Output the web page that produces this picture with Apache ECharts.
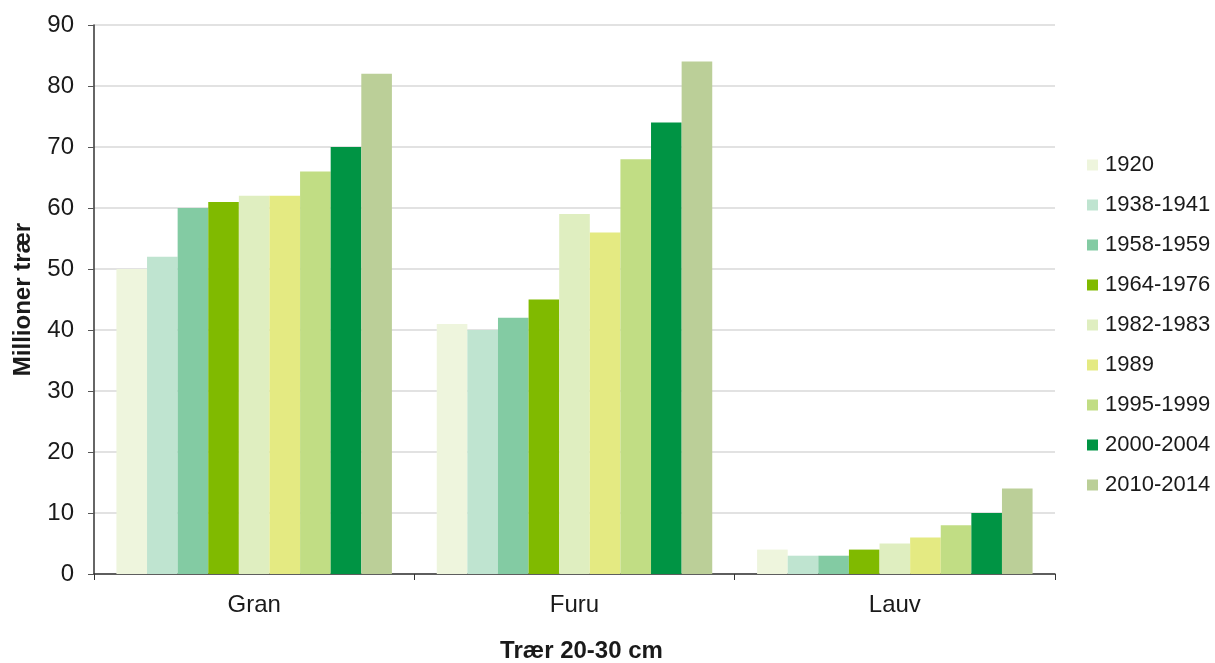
<!DOCTYPE html>
<html><head><meta charset="utf-8">
<script src="https://cdn.jsdelivr.net/npm/echarts@6/dist/echarts.min.js"></script>
<style>html,body{margin:0;padding:0;background:#fff}#c{width:1215px;height:663px}</style>
</head><body><div id="c"></div>
<script>
const categories = ['Gran', 'Furu', 'Lauv'];
const seriesNames = ['1920','1938-1941','1958-1959','1964-1976','1982-1983','1989','1995-1999','2000-2004','2010-2014'];
const v1920 = [50, 41, 4];
const v1938 = [52, 40, 3];
const v1958 = [60, 42, 3];
const v1964 = [61, 45, 4];
const v1982 = [62, 59, 5];
const v1989 = [62, 56, 6];
const v1995 = [66, 68, 8];
const v2000 = [70, 74, 10];
const v2010 = [82, 84, 14];
const colors = ['#EEF5DD','#BFE4D0','#83CBA3','#80BA00','#DFEEC0','#E4EA82','#C1DD84','#009444','#BBCF98'];
const values = [v1920, v1938, v1958, v1964, v1982, v1989, v1995, v2000, v2010];
const font = 'Liberation Sans, Arial, sans-serif';
const chart = echarts.init(document.getElementById('c'));
chart.setOption({
  animation: false,
  color: colors,
  grid: {left: 94, right: 160, top: 25, bottom: 89, containLabel: false, outerBoundsMode: 'none'},
  legend: {
    orient: 'vertical', left: 1082, top: 149, itemGap: 18,
    itemWidth: 11, itemHeight: 11, icon: 'rect',
    textStyle: {fontFamily: font, fontSize: 22, color: '#1a1a1a', padding: [0, 0, 0, 2]},
    data: seriesNames
  },
  xAxis: {
    type: 'category', data: categories,
    name: 'Trær 20-30 cm', nameLocation: 'middle', nameGap: 65,
    nameTextStyle: {fontFamily: font, fontSize: 24, fontWeight: 'bold', color: '#1a1a1a', padding: [0, 0, 0, 14]},
    axisLine: {lineStyle: {color: '#333', width: 1.5}},
    axisTick: {show: true, length: 6, lineStyle: {color: '#333'}},
    axisLabel: {fontFamily: font, fontSize: 24, color: '#1a1a1a', margin: 19}
  },
  yAxis: {
    type: 'value', min: 0, max: 90, interval: 10,
    name: 'Millioner trær', nameLocation: 'middle', nameGap: 59,
    nameTextStyle: {fontFamily: font, fontSize: 24, fontWeight: 'bold', color: '#1a1a1a'},
    axisLine: {show: true, lineStyle: {color: '#333', width: 1.5}},
    axisTick: {show: true, length: 6, lineStyle: {color: '#555'}},
    axisLabel: {fontFamily: font, fontSize: 24, color: '#1a1a1a', margin: 20},
    splitLine: {lineStyle: {color: '#D9D9D9', width: 1.5}}
  },
  series: seriesNames.map((n, i) => ({
    name: n, type: 'bar', data: values[i],
    barGap: '0%', barCategoryGap: '14%',
    itemStyle: {color: colors[i]}
  }))
});
</script></body></html>
